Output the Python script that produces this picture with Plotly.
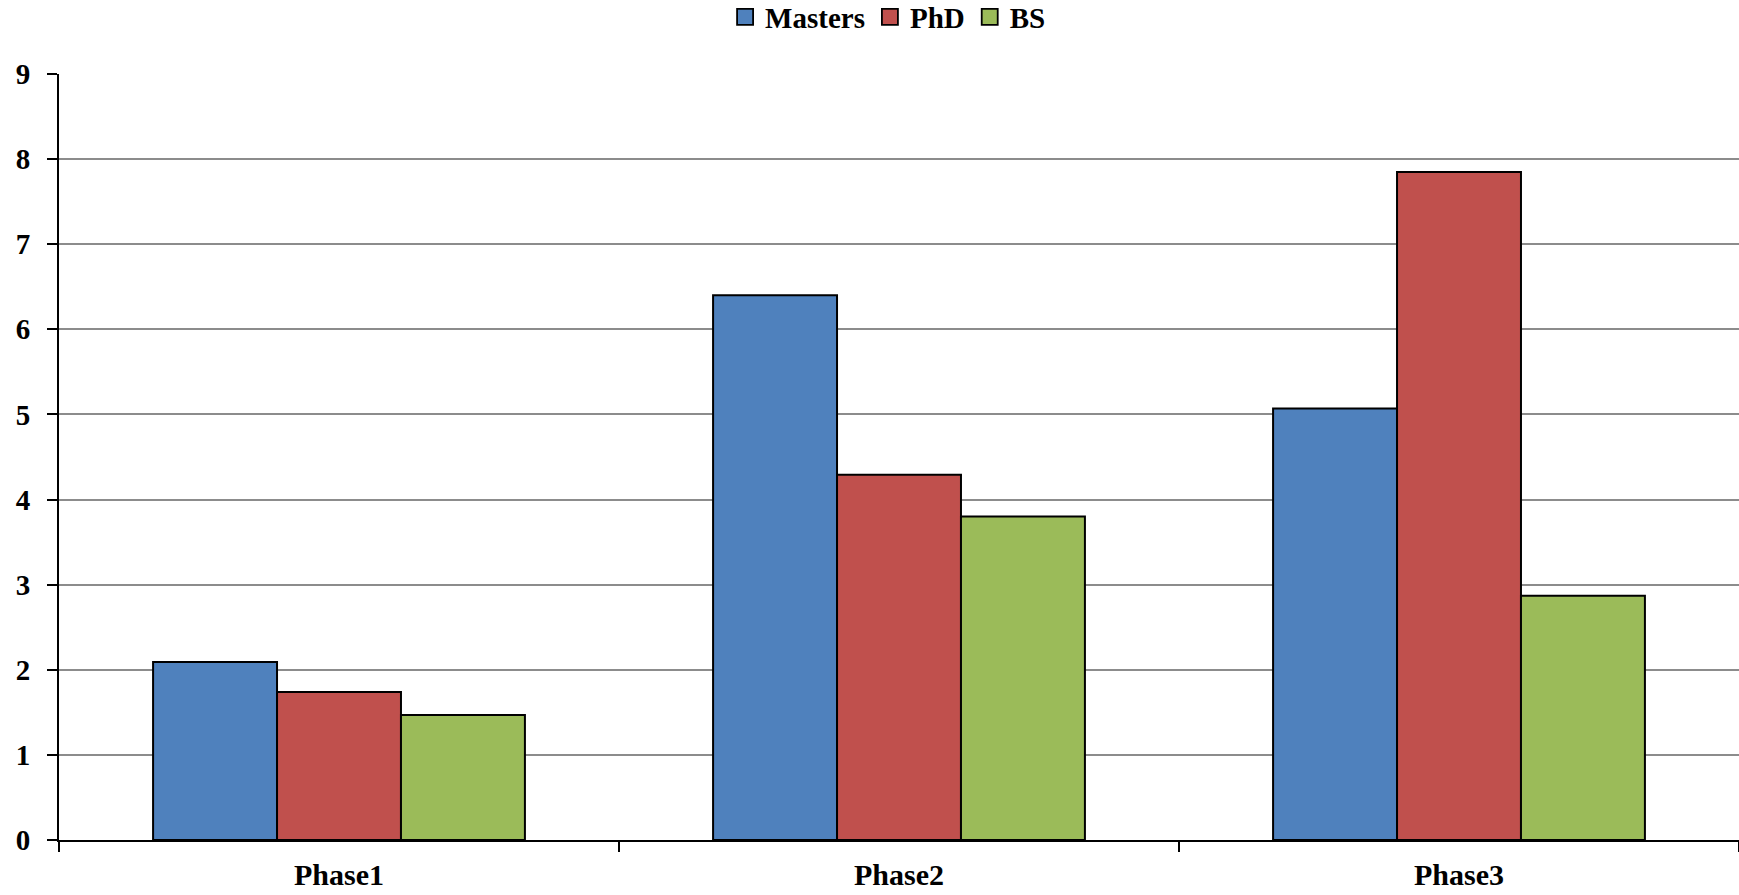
import plotly.graph_objects as go

categories = ["Phase1", "Phase2", "Phase3"]
masters = [2.09, 6.40, 5.07]
phd = [1.74, 4.29, 7.85]
bs = [1.47, 3.80, 2.87]
y_ticks = [0, 1, 2, 3, 4, 5, 6, 7, 8, 9]
series = [("Masters", masters, "#4F81BD"), ("PhD", phd, "#C0504D"), ("BS", bs, "#9BBB59")]

FONT = "Liberation Serif"
fig = go.Figure()
for name, vals, col in series:
    fig.add_trace(go.Bar(name=name, x=categories, y=vals, showlegend=False,
                         marker=dict(color=col, line=dict(color="black", width=2))))
for name, vals, col in series:
    fig.add_trace(go.Scatter(name=name, x=[None], y=[None], mode="markers",
                             marker=dict(symbol="square", size=16, color=col, line=dict(color="black", width=1.8))))

fig.update_layout(
    width=1739, height=895,
    barmode="group", bargap=0.336, bargroupgap=0,
    plot_bgcolor="white", paper_bgcolor="white",
    margin=dict(l=59, r=0, t=74, b=55, autoexpand=False),
    font=dict(family=FONT, size=26, color="black"),
    legend=dict(orientation="h", x=0.4935, xanchor="center", yref="container", y=0.981, yanchor="middle",
                font=dict(family=FONT, size=29, color="black", weight="bold"),
                itemwidth=30, tracegroupgap=0, itemsizing="trace"),
    xaxis=dict(showline=True, linecolor="black", linewidth=2, ticks="outside", tickson="boundaries",
               ticklen=10, tickwidth=1.5, tickcolor="black", showgrid=False,
               tickfont=dict(family=FONT, size=30, color="black", weight="bold"), ticklabelstandoff=7),
    yaxis=dict(range=[0, 9], tickvals=y_ticks, showline=True, linecolor="black", linewidth=2,
               ticks="outside", ticklen=10, tickwidth=1.5, tickcolor="black",
               showgrid=True, gridcolor="#8C8C8C", gridwidth=1.5, zeroline=False,
               tickfont=dict(family=FONT, size=29, color="black", weight="bold"), ticklabelstandoff=11),
    yaxis2=dict(range=[0, 9], tickvals=y_ticks, overlaying="y", side="left", ticks="inside",
                ticklen=10, tickwidth=1.5, tickcolor="black", showticklabels=False, showgrid=False,
                zeroline=False, showline=False),
    xaxis2=dict(range=[-0.5, 2.5], tickvals=[-0.5, 0.5, 1.5, 2.5], overlaying="x", side="bottom",
                ticks="inside", ticklen=8, tickwidth=1.5, tickcolor="black", showticklabels=False,
                showgrid=False, zeroline=False, showline=False),
)
fig.write_html("out.html", config={"displayModeBar": False},
               post_script="document.body.style.margin='0';document.body.style.overflow='hidden';")
